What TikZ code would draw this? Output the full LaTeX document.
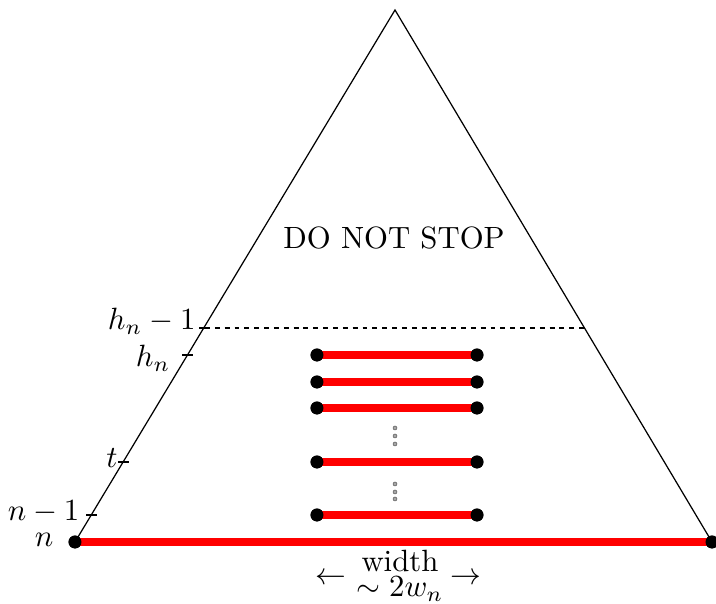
\documentclass[tikz,border=0pt]{standalone}
\begin{document}
\begin{tikzpicture}[x=0.325pt,y=-0.325pt,
  side/.style={line width=0.4pt,black},
  redseg/.style={red,line width=2.3pt},
  endpt/.style={circle,fill=black,inner sep=0pt,minimum size=4.2pt},
  tickmark/.style={line width=0.4pt},
  lbl/.style={anchor=base east,inner sep=0pt},
  smalldot/.style={circle,fill=black!35,draw=black!70,line width=0.15pt,inner sep=0pt,minimum size=1.3pt}]
\useasboundingbox (0,0) rectangle (716,604);
% triangle
\coordinate (A) at (395,10);
\coordinate (L) at (75,542);
\coordinate (R) at (712,542);
\draw[side] (L) -- (A) -- (R);
% bottom red segment
\node[endpt] (bl) at (L) {};
\node[endpt] (br) at (R) {};
\draw[redseg] (bl.center) -- (br.center);
\node[endpt] at (L) {};
\node[endpt] at (R) {};
% inner red segments
\foreach \y/\nm in {355/a,382/b,408/c,462/d,515/e}{
  \node[endpt] (\nm l) at (317,\y) {};
  \node[endpt] (\nm r) at (477,\y) {};
  \draw[redseg] (\nm l.center) -- (\nm r.center);
  \node[endpt] at (317,\y) {};
  \node[endpt] at (477,\y) {};
}
% vertical dots
\foreach \y in {428,436,444,484,492,499}{
  \node[smalldot] at (395,\y) {};
}
% ticks
\coordinate (t1l) at (199,328); \coordinate (t1r) at (210,328);
\coordinate (t2l) at (182,355); \coordinate (t2r) at (193,355);
\coordinate (t3l) at (118,462); \coordinate (t3r) at (129,462);
\coordinate (t4l) at (86,515);  \coordinate (t4r) at (97,515);
\draw[tickmark] (t1l) -- (t1r);
\draw[tickmark] (t2l) -- (t2r);
\draw[tickmark] (t3l) -- (t3r);
\draw[tickmark] (t4l) -- (t4r);
% dashed line
\coordinate (d1) at (205,328);
\coordinate (d2) at (584,328);
\draw[line width=0.4pt,dash pattern=on 1.6pt off 1.6pt] (d1) -- (d2);
% labels
\node[lbl] (lh1) at (196,330) {$h_n-1$};
\node[lbl] (lh) at (171,367) {$h_n$};
\node[lbl] (lt) at (118,468) {$t$};
\node[lbl] (ln1) at (80,521) {$n-1$};
\node[lbl] (ln) at (54,547) {$n$};
% text
\node[anchor=base,inner sep=0pt] (dns) at (394,249) {DO NOT STOP};
\node[anchor=base,inner sep=0pt] (w1) at (400,572) {width};
\node[anchor=base,inner sep=0pt] (w2) at (400,597) {$\sim 2w_n$};
\node[inner sep=0pt] (la) at (331,579) {$\leftarrow$};
\node[inner sep=0pt] (ra) at (466,579) {$\rightarrow$};
\end{tikzpicture}
\end{document}
